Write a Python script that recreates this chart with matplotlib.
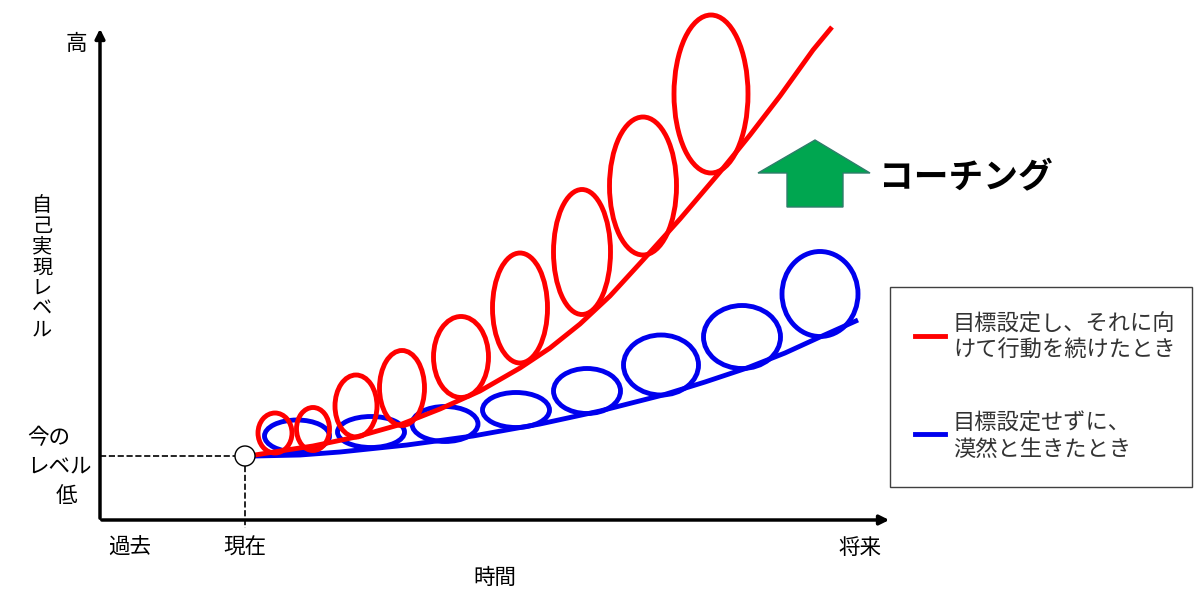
import matplotlib.pyplot as plt
from matplotlib.patches import Ellipse, Rectangle, Polygon, Circle

plt.rcParams['font.family'] = ['Noto Sans CJK JP', 'DejaVu Sans']

# curves (pixel coords, y downwards)
red_x = [255, 280, 313, 356, 402, 440, 480, 520, 550, 580, 610, 643, 680, 720, 750, 780, 813, 832]
red_y = [455, 451, 446, 437, 424, 409, 391, 368, 348, 324, 296, 260, 219, 172, 135, 96, 50, 27]
blue_x = [255, 300, 340, 407, 473, 540, 600, 663, 705, 747, 785, 820, 858]
blue_y = [456, 455, 452, 445, 436, 424, 411, 395, 382, 368, 353, 337, 320]

# loops: centre x, centre y, width, height
red_cx = [275, 313, 356, 402, 461, 520, 582, 643, 711]
red_cy = [433, 429, 406, 388, 357, 308, 252, 186, 94]
red_w = [34, 33, 42, 45, 55, 55, 57, 67, 74]
red_h = [40, 43, 62, 75, 81, 110, 125, 138, 158]

blue_cx = [297, 371, 445, 516, 587, 661, 742, 820]
blue_cy = [436, 432, 424, 410, 391, 365, 337, 294]
blue_w = [65, 67, 66, 67, 67, 75, 77, 76]
blue_h = [32, 31, 35, 35, 45, 60, 63, 85]

legend_red = '目標設定し、それに向\nけて行動を続けたとき'
legend_blue = '目標設定せずに、\n漠然と生きたとき'

fig = plt.figure(figsize=(12, 5.99), dpi=100)
ax = fig.add_axes([0, 0, 1, 1])
ax.set_xlim(0, 1200)
ax.set_ylim(599, 0)
ax.axis('off')

# axes with arrows
ax.annotate('', xy=(100, 26), xytext=(100, 521),
            arrowprops=dict(arrowstyle='-|>', lw=2.5, color='black', mutation_scale=14))
ax.annotate('', xy=(892, 520), xytext=(99, 520),
            arrowprops=dict(arrowstyle='-|>', lw=2.5, color='black', mutation_scale=14))

# current level guides
ax.plot([100, 236], [456, 456], ls='--', color='black', lw=1.2)
ax.plot([245, 245], [466, 528], ls='--', color='black', lw=1.2)

# blue path
ax.plot(blue_x, blue_y, color='#0000ee', lw=3.5, solid_capstyle='butt',
        solid_joinstyle='round', zorder=2)
for cx, cy, w, h in zip(blue_cx, blue_cy, blue_w, blue_h):
    ax.add_patch(Ellipse((cx, cy), w, h, fill=False, ec='#0000ee', lw=3.5, zorder=2))

# red path
ax.plot(red_x, red_y, color='#ff0000', lw=3.5, solid_capstyle='butt',
        solid_joinstyle='round', zorder=3)
for cx, cy, w, h in zip(red_cx, red_cy, red_w, red_h):
    ax.add_patch(Ellipse((cx, cy), w, h, fill=False, ec='#ff0000', lw=3.5, zorder=3))

ax.add_patch(Circle((245, 456), 10, fc='white', ec='black', lw=1, zorder=4))

# green arrow
arrow = [(815, 140), (870, 173), (843, 173), (843, 207), (787, 207), (787, 173), (758, 173)]
ax.add_patch(Polygon(arrow, closed=True, fc='#00a650', ec='#2e7d6a', lw=1))
ax.text(879, 178, 'コーチング', fontsize=25, fontweight='bold', va='center', ha='left')

# legend box
ax.add_patch(Rectangle((890, 287), 302, 200, fill=False, ec='#404040', lw=1))
ax.plot([915, 945], [336, 336], color='#ff0000', lw=3.5)
ax.plot([915, 945], [434, 434], color='#0000ee', lw=3.5)
ax.text(953, 337, legend_red, fontsize=16, va='center', ha='left',
        color='#333333', linespacing=1.2)
ax.text(953, 436, legend_blue, fontsize=16, va='center', ha='left',
        color='#333333', linespacing=1.2)

# axis labels
fs = 15.5
ax.text(76, 44, '高', fontsize=fs, ha='center', va='center')
ax.text(42, 268, '\n'.join('自己実現レベル'), fontsize=14.5, ha='center', va='center',
        linespacing=0.98)
ax.text(27, 438, '今の', fontsize=fs, ha='left', va='center')
ax.text(27, 466, 'レベル', fontsize=fs, ha='left', va='center')
ax.text(77, 496, '低', fontsize=fs, ha='right', va='center')
ax.text(130, 548, '過去', fontsize=fs, ha='center', va='center')
ax.text(245, 548, '現在', fontsize=fs, ha='center', va='center')
ax.text(860, 548, '将来', fontsize=fs, ha='center', va='center')
ax.text(495, 578, '時間', fontsize=fs, ha='center', va='center')

fig.savefig('out.png', dpi=100)
